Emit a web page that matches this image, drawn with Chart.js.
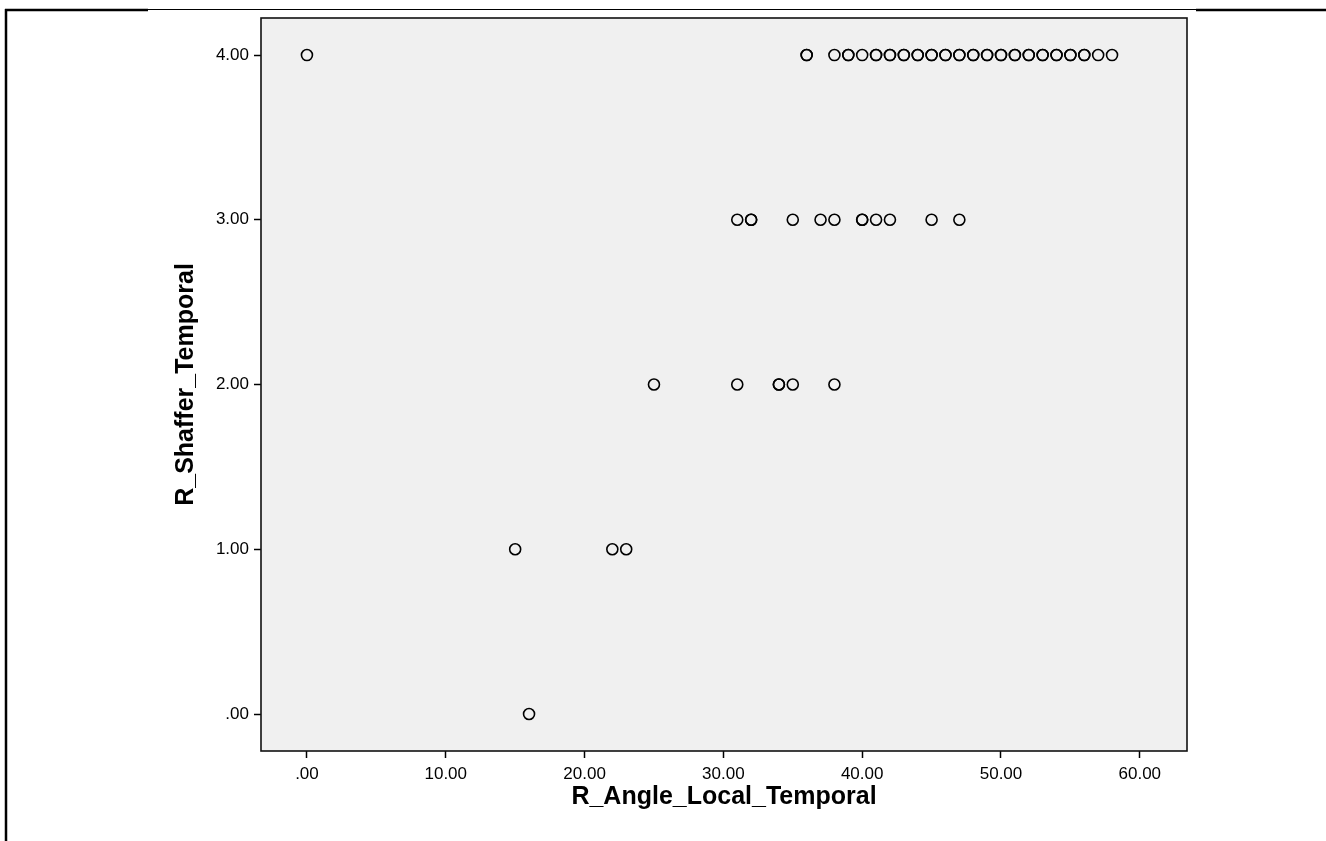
<!DOCTYPE html>
<html>
<head>
<meta charset="utf-8">
<script src="https://cdn.jsdelivr.net/npm/chart.js@4/dist/chart.umd.min.js"></script>
<style>
  html, body { margin: 0; padding: 0; background: #ffffff; }
  #wrap { position: relative; width: 1326px; height: 841px; }
  canvas { display: block; }
</style>
</head>
<body>
<div id="wrap"><canvas id="c" width="1326" height="841"></canvas></div>
<script>
// Shaffer score categories and the R_Angle_Local_Temporal values observed at each
// (repeated values = overlapping cases, drawn darker in the reference)
const shafferScores = [4, 3, 2, 1, 0];
const anglesAtScore4 = [0, 36, 36, 38, 39, 39, 40, 41, 41, 42, 42, 43, 43, 44, 44, 45, 45, 46, 46, 47, 47,
                        48, 48, 49, 49, 50, 50, 51, 51, 52, 52, 53, 53, 54, 54, 55, 55, 56, 56, 57, 58];
const anglesAtScore3 = [31, 32, 32, 35, 37, 38, 40, 40, 41, 42, 45, 47];
const anglesAtScore2 = [25, 31, 34, 34, 35, 38];
const anglesAtScore1 = [15, 22, 23];
const anglesAtScore0 = [16];
const xTickValues = [0, 10, 20, 30, 40, 50, 60];
const yTickValues = [0, 1, 2, 3, 4];
const xTitle = 'R_Angle_Local_Temporal';
const yTitle = 'R_Shaffer_Temporal';

const anglesByScore = [anglesAtScore4, anglesAtScore3, anglesAtScore2, anglesAtScore1, anglesAtScore0];
const points = [];
shafferScores.forEach((s, i) => anglesByScore[i].forEach(a => points.push({ x: a, y: s })));

const fmt = v => (v === 0 ? '.00' : v.toFixed(2));

const framePlugin = {
  id: 'frame',
  beforeDraw(chart) {
    const { ctx, chartArea: a } = chart;
    ctx.save();
    ctx.fillStyle = '#f0f0f0';
    ctx.fillRect(a.left, a.top, a.right - a.left, a.bottom - a.top);
    // outer page frame lines
    ctx.strokeStyle = '#000';
    ctx.lineWidth = 1;
    ctx.beginPath();
    ctx.moveTo(148, 9.5); ctx.lineTo(1196, 9.5);
    ctx.stroke();
    ctx.lineWidth = 2.5;
    ctx.beginPath();
    ctx.moveTo(5, 10); ctx.lineTo(148, 10);
    ctx.moveTo(1196, 10); ctx.lineTo(1326, 10);
    ctx.moveTo(6, 9); ctx.lineTo(6, 841);
    ctx.stroke();
    ctx.restore();
  },
  afterDraw(chart) {
    const { ctx, chartArea: a } = chart;
    ctx.save();
    ctx.strokeStyle = '#111';
    ctx.lineWidth = 1.6;
    ctx.strokeRect(a.left, a.top, a.right - a.left, a.bottom - a.top);
    ctx.restore();
  }
};

new Chart(document.getElementById('c'), {
  type: 'scatter',
  data: {
    datasets: [{
      data: points,
      pointStyle: 'circle',
      pointRadius: 5.5,
      pointHoverRadius: 5.5,
      borderWidth: 1.6,
      borderColor: '#000',
      backgroundColor: 'rgba(0,0,0,0)'
    }]
  },
  options: {
    responsive: false,
    animation: false,
    events: [],
    layout: { padding: { top: 18, right: 139, left: 160, bottom: 0 } },
    plugins: { legend: { display: false }, tooltip: { enabled: false } },
    scales: {
      x: {
        type: 'linear',
        min: -3.31,
        max: 63.4,
        afterBuildTicks: s => { s.ticks = xTickValues.map(v => ({ value: v })); },
        afterFit: s => { s.height = 90; },
        grid: { drawOnChartArea: false, drawTicks: true, tickLength: 7, tickColor: '#000', tickWidth: 1.5 },
        border: { display: false },
        ticks: {
          callback: v => fmt(v),
          color: '#000',
          padding: 6,
          maxRotation: 0,
          autoSkip: false,
          font: { family: '"Liberation Sans", Arial, sans-serif', size: 17 }
        },
        title: {
          display: true,
          text: xTitle,
          color: '#000',
          padding: { top: 4, bottom: 29 },
          font: { family: '"Liberation Sans", Arial, sans-serif', size: 25, weight: 'bold' }
        }
      },
      y: {
        type: 'linear',
        min: -0.2246,
        max: 4.225,
        afterBuildTicks: s => { s.ticks = yTickValues.map(v => ({ value: v })); },
        afterFit: s => { s.width = 101; },
        grid: { drawOnChartArea: false, drawTicks: true, tickLength: 7, tickColor: '#000', tickWidth: 1.5 },
        border: { display: false },
        ticks: {
          callback: v => fmt(v),
          color: '#000',
          padding: 5,
          autoSkip: false,
          font: { family: '"Liberation Sans", Arial, sans-serif', size: 17 }
        },
        title: {
          display: true,
          text: yTitle,
          color: '#000',
          padding: { top: 11, bottom: 4 },
          font: { family: '"Liberation Sans", Arial, sans-serif', size: 25, weight: 'bold' }
        }
      }
    }
  },
  plugins: [framePlugin]
});
</script>
</body>
</html>
